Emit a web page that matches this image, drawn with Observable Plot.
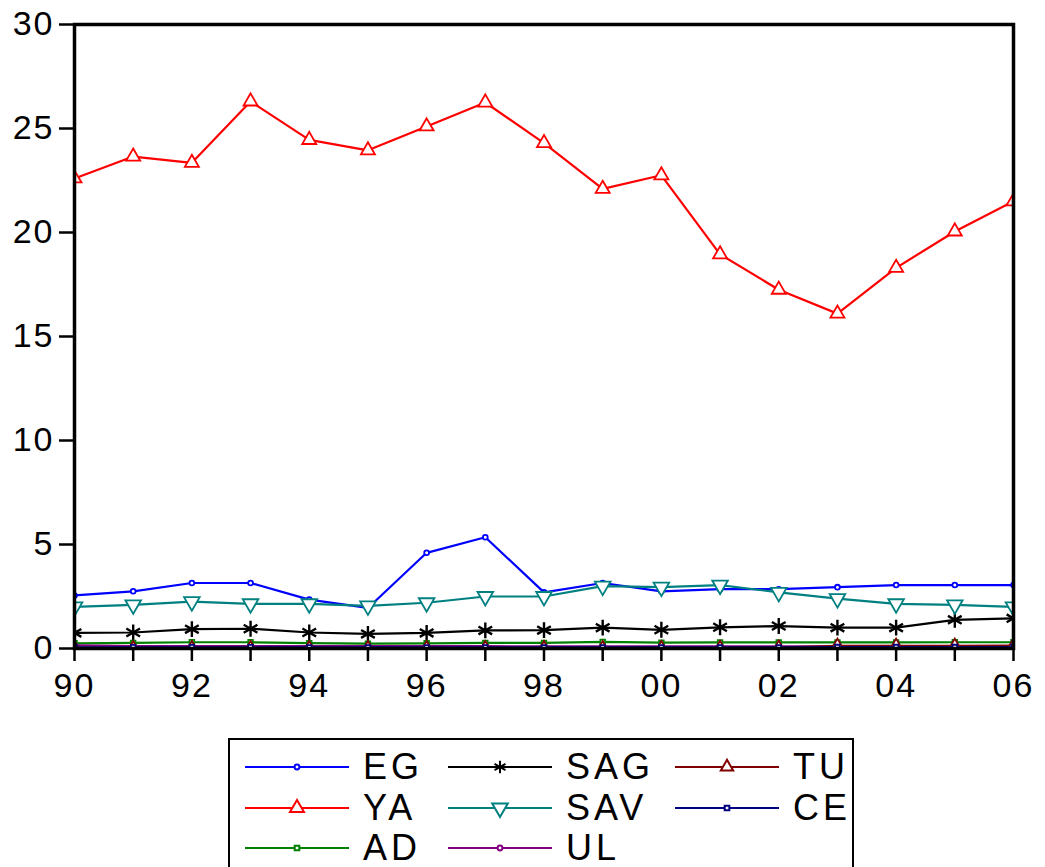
<!DOCTYPE html>
<html>
<head>
<meta charset="utf-8">
<script src="https://cdn.jsdelivr.net/npm/d3@7"></script>
<script src="https://cdn.jsdelivr.net/npm/@observablehq/plot@0.6"></script>
<style>
  html, body { margin: 0; padding: 0; background: #fff; }
  body { width: 1045px; height: 867px; overflow: hidden; position: relative; font-family: "Liberation Sans", Arial, sans-serif; }
  #chart { position: absolute; left: 0; top: 0; }
  #legend { position: absolute; left: 228px; top: 738px; width: 626px; height: 160px; border: 2px solid #000; box-sizing: border-box; background: #fff; }
  .item { position: absolute; display: flex; align-items: center; height: 40px; }
  .item span { font-size: 36px; letter-spacing: 4px; color: #000; margin-left: 14px; line-height: 40px; }
</style>
</head>
<body>
<div id="chart"></div>
<div id="legend"></div>
<script>
const years = [1990,1991,1992,1993,1994,1995,1996,1997,1998,1999,2000,2001,2002,2003,2004,2005,2006];
const EG  = [2.55,2.75,3.15,3.15,2.35,1.95,4.6,5.35,2.7,3.15,2.75,2.85,2.85,2.95,3.05,3.05,3.05];
const YA  = [22.6,23.65,23.35,26.3,24.45,23.95,25.1,26.25,24.3,22.1,22.75,18.95,17.25,16.1,18.3,20.05,21.5];
const AD  = [0.25,0.27,0.3,0.3,0.26,0.23,0.25,0.27,0.27,0.32,0.28,0.29,0.29,0.29,0.29,0.3,0.3];
const SAG = [0.75,0.77,0.93,0.95,0.77,0.7,0.75,0.87,0.88,1.0,0.9,1.02,1.08,1.0,1.0,1.38,1.45];
const SAV = [2.0,2.1,2.25,2.15,2.15,2.05,2.2,2.5,2.5,3.0,2.95,3.05,2.7,2.4,2.15,2.1,2.0];
const UL  = [0.15,0.12,0.12,0.12,0.11,0.11,0.11,0.11,0.1,0.1,0.1,0.1,0.1,0.1,0.1,0.1,0.1];
const TU  = [0.02,0.02,0.02,0.02,0.02,0.02,0.02,0.02,0.02,0.02,0.02,0.03,0.04,0.13,0.13,0.13,0.14];
const CE  = [0.06,0.06,0.06,0.06,0.05,0.05,0.05,0.05,0.05,0.05,0.05,0.05,0.05,0.07,0.07,0.07,0.07];

const yTicks = [0,5,10,15,20,25,30];

const seriesDefs = [
  {name:"EG",  values:EG,  color:"#0000ff", symbol:"circle",   r:2.4, rotate:0},
  {name:"YA",  values:YA,  color:"#ff0000", symbol:"triangle", r:5.2, rotate:0},
  {name:"SAG", values:SAG, color:"#000000", symbol:"asterisk", r:7.5, rotate:0},
  {name:"SAV", values:SAV, color:"#008080", symbol:"triangle", r:5.8, rotate:180},
  {name:"AD",  values:AD,  color:"#008000", symbol:"square",   r:2.6, rotate:0},
  {name:"UL",  values:UL,  color:"#800080", symbol:"circle",   r:2.4, rotate:0},
  {name:"TU",  values:TU,  color:"#800000", symbol:"triangle", r:4.6, rotate:0},
  {name:"CE",  values:CE,  color:"#000080", symbol:"square",   r:2.6, rotate:0}
];

const rows = seriesDefs.flatMap(s => years.map((yr, i) => ({series: s.name, year: yr, value: s.values[i]})));

const marks = [];
for (const s of seriesDefs) {
  const d = rows.filter(r => r.series === s.name);
  marks.push(Plot.line(d, {x: "year", y: "value", stroke: s.color, strokeWidth: 2.2, clip: "frame"}));
  marks.push(Plot.dot(d, {x: "year", y: "value", stroke: s.color, strokeWidth: s.symbol === "asterisk" ? 2.4 : 1.8, fill: s.symbol === "asterisk" ? "none" : "white", symbol: s.symbol, r: s.r, rotate: s.rotate, clip: "frame"}));
}

const chart = Plot.plot({
  width: 1045,
  height: 720,
  marginLeft: 74,
  marginRight: 32,
  marginTop: 24,
  marginBottom: 72,
  style: {fontFamily: "'Liberation Sans', Arial, sans-serif", fontSize: "34px", background: "#fff", color: "#000"},
  x: {domain: [1990, 2006]},
  y: {domain: [0, 30]},
  marks: [
    Plot.axisY({ticks: yTicks, tickSize: 15, tickPadding: 5, strokeWidth: 2.5, label: null, tickFormat: d => String(d), fontSize: 34}),
    Plot.axisX({ticks: years, tickSize: 13, tickPadding: 11, strokeWidth: 2.5, label: null,
      tickFormat: d => (d % 2 === 0 ? String(d).slice(2) : ""), fontSize: 34}),
    ...marks,
    Plot.frame({stroke: "#000", strokeWidth: 3.5})
  ]
});
chart.querySelectorAll("text").forEach(t => t.style.letterSpacing = "2px");
document.getElementById("chart").appendChild(chart);

// legend
const legendOrder = [
  ["EG", 0, 0], ["SAG", 1, 0], ["TU", 2, 0],
  ["YA", 0, 1], ["SAV", 1, 1], ["CE", 2, 1],
  ["AD", 0, 2], ["UL", 1, 2]
];
const colX = [15, 218, 445];
const rowY = [7, 48, 88];
const legend = document.getElementById("legend");
const symMap = {circle: d3.symbolCircle, triangle: d3.symbolTriangle, asterisk: d3.symbolAsterisk, square: d3.symbolSquare};
for (const [name, c, r] of legendOrder) {
  const s = seriesDefs.find(d => d.name === name);
  const item = document.createElement("div");
  item.className = "item";
  item.style.left = colX[c] + "px";
  item.style.top = rowY[r] + "px";
  const svgNS = "http://www.w3.org/2000/svg";
  const svg = document.createElementNS(svgNS, "svg");
  svg.setAttribute("width", 104);
  svg.setAttribute("height", 40);
  const line = document.createElementNS(svgNS, "line");
  line.setAttribute("x1", 0); line.setAttribute("x2", 104);
  line.setAttribute("y1", 20); line.setAttribute("y2", 20);
  line.setAttribute("stroke", s.color); line.setAttribute("stroke-width", 2.2);
  svg.appendChild(line);
  const p = document.createElementNS(svgNS, "path");
  const lr = s.symbol === "asterisk" ? 6 : s.r;
  p.setAttribute("d", d3.symbol(symMap[s.symbol], Math.PI * lr * lr)());
  p.setAttribute("transform", `translate(52,20) rotate(${s.rotate})`);
  p.setAttribute("fill", s.symbol === "asterisk" ? "none" : "white");
  p.setAttribute("stroke", s.color);
  p.setAttribute("stroke-width", 2);
  svg.appendChild(p);
  item.appendChild(svg);
  const span = document.createElement("span");
  span.textContent = name;
  item.appendChild(span);
  legend.appendChild(item);
}
</script>
</body>
</html>
